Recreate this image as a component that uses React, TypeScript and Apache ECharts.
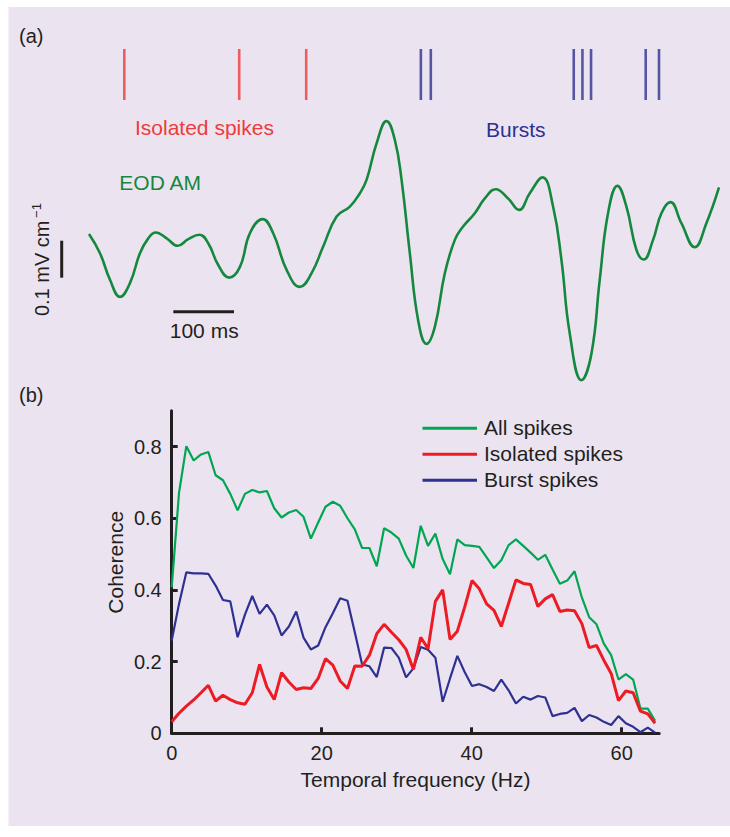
import React, { useEffect, useRef } from "react";
import * as echarts from "echarts";

// ---------- DATA ----------
// Coherence spectra, sampled at a uniform frequency resolution (Hz)
const FREQ_STEP_HZ = 1000 / 1024;

const ALL_SPIKES = [
  0.407, 0.671, 0.801, 0.761, 0.778, 0.785, 0.72, 0.706, 0.668, 0.622,
  0.668, 0.679, 0.672, 0.676, 0.628, 0.602, 0.616, 0.623, 0.604, 0.543,
  0.588, 0.632, 0.646, 0.635, 0.6, 0.569, 0.517, 0.517, 0.466, 0.572,
  0.56, 0.543, 0.496, 0.461, 0.579, 0.523, 0.557, 0.486, 0.444, 0.541,
  0.525, 0.523, 0.52, 0.491, 0.461, 0.483, 0.525, 0.541, 0.523, 0.504,
  0.484, 0.498, 0.457, 0.417, 0.426, 0.452, 0.379, 0.324, 0.304, 0.25,
  0.218, 0.15, 0.165, 0.15, 0.069, 0.069, 0.035,
];

const ISOLATED_SPIKES = [
  0.032, 0.056, 0.076, 0.093, 0.113, 0.134, 0.09, 0.106, 0.094, 0.085,
  0.081, 0.113, 0.192, 0.129, 0.094, 0.169, 0.143, 0.122, 0.127, 0.125,
  0.153, 0.208, 0.19, 0.146, 0.125, 0.188, 0.187, 0.218, 0.278, 0.304,
  0.282, 0.261, 0.234, 0.178, 0.268, 0.236, 0.368, 0.4, 0.262, 0.285,
  0.352, 0.426, 0.403, 0.361, 0.343, 0.298, 0.363, 0.428, 0.418, 0.415,
  0.354, 0.375, 0.387, 0.34, 0.344, 0.342, 0.306, 0.239, 0.245, 0.204,
  0.167, 0.091, 0.118, 0.113, 0.062, 0.054, 0.028,
];

const BURST_SPIKES = [
  0.259, 0.361, 0.449, 0.446, 0.446, 0.445, 0.412, 0.372, 0.368, 0.268,
  0.331, 0.383, 0.333, 0.359, 0.329, 0.273, 0.298, 0.34, 0.267, 0.234,
  0.245, 0.296, 0.335, 0.377, 0.37, 0.282, 0.192, 0.187, 0.157, 0.239,
  0.238, 0.211, 0.156, 0.181, 0.241, 0.233, 0.211, 0.088, 0.153, 0.216,
  0.171, 0.132, 0.137, 0.129, 0.118, 0.15, 0.12, 0.083, 0.102, 0.094,
  0.104, 0.1, 0.048, 0.054, 0.057, 0.071, 0.034, 0.051, 0.044, 0.032,
  0.023, 0.048, 0.028, 0.018, 0.003, 0.016, 0.002,
];

const X_TICKS = [0, 20, 40, 60];
const Y_TICKS = [0, 0.2, 0.4, 0.6, 0.8];
const LEGEND_LABELS = ["All spikes", "Isolated spikes", "Burst spikes"];

// EOD amplitude modulation trace (time in ms, amplitude in mV/cm, relative)
const EOD_TIME_MS = [
  0, 18.1, 34.6, 51.1, 67.5, 84.0, 97.7, 109.9, 128.0, 146.1,
  163.6, 181.7, 196.5, 213.0, 231.1, 248.8, 265.2, 286.2, 303.6, 325.7,
  347.6, 366.9, 386.0, 408.1, 430.0, 446.5, 457.5, 474.0, 490.4, 504.1,
  515.2, 528.8, 542.5, 556.3, 570.0, 586.5, 603.0, 616.6, 635.9, 652.4,
  670.5, 690.8, 708.9, 726.5, 747.4, 764.9, 778.7, 792.4, 811.7, 828.2,
  841.8, 855.5, 871.0, 885.8, 902.3, 914.3, 929.7, 943.5, 958.3, 976.4,
  998.4, 1017.6, 1038.4,
];
const EOD_AMP = [
  0.465, 0.413, 0.341, 0.295, 0.332, 0.413, 0.453, 0.469, 0.453, 0.433,
  0.451, 0.463, 0.44, 0.381, 0.347, 0.376, 0.467, 0.505, 0.467, 0.368,
  0.322, 0.359, 0.431, 0.512, 0.539, 0.575, 0.611, 0.71, 0.77, 0.719,
  0.611, 0.413, 0.232, 0.168, 0.214, 0.359, 0.449, 0.485, 0.521, 0.561,
  0.586, 0.561, 0.53, 0.575, 0.618, 0.539, 0.395, 0.196, 0.07, 0.142,
  0.341, 0.521, 0.595, 0.539, 0.422, 0.396, 0.449, 0.521, 0.551, 0.494,
  0.429, 0.494, 0.591,
];

// Spike raster (ms)
const ISOLATED_SPIKE_TIMES_MS = [58.2, 247.6, 358.0];
const BURST_SPIKE_TIMES_MS = [547.0, 563.4, 799.0, 813.3, 827.5, 917.6, 939.5];

// ---------- STYLE ----------
const FONT = "'Liberation Sans', Arial, Helvetica, sans-serif";
const INK = "#231f20";
const BG = "#ebe4f0";
const GREEN = "#00a651";
const EOD_GREEN = "#15883f";
const RED = "#ed1c24";
const RED_LIGHT = "#ee3b3b";
const BLUE = "#2e3192";

function text(x: number, y: number, t: string, opts: any = {}) {
  return {
    type: "text",
    x,
    y,
    rotation: opts.rotation || 0,
    silent: true,
    z: 100,
    style: {
      text: t,
      fill: opts.fill || INK,
      fontSize: opts.fontSize || 21,
      fontFamily: FONT,
      align: opts.align || "left",
      verticalAlign: "middle",
    },
  };
}

function seg(x1: number, y1: number, x2: number, y2: number, color: string, w: number) {
  return {
    type: "line",
    silent: true,
    z: 100,
    shape: { x1, y1, x2, y2 },
    style: { stroke: color, lineWidth: w },
  };
}

export default function App() {
  const ref = useRef<HTMLDivElement>(null);

  useEffect(() => {
    if (!ref.current) return;
    const chart = echarts.init(ref.current, null, { renderer: "svg" });

    const spectrum = (vals: number[]) => vals.map((v, i) => [i * FREQ_STEP_HZ, v]);
    const legendColors = [GREEN, RED, BLUE];
    const legendY = [428.3, 454.3, 480.3];

    const option: any = {
      animation: false,
      backgroundColor: "transparent",
      grid: [
        { left: 89, top: 110, width: 630, height: 296, outerBoundsMode: "none" },
        { left: 89, top: 49, width: 630, height: 51, outerBoundsMode: "none" },
        { left: 171.7, top: 410.7, width: 487.5, height: 322.6, outerBoundsMode: "none" },
      ],
      xAxis: [
        { gridIndex: 0, type: "value", min: 0, max: 1038.4, show: false },
        { gridIndex: 1, type: "value", min: 0, max: 1038.4, show: false },
        {
          gridIndex: 2,
          type: "value",
          min: 0,
          max: 65,
          axisLine: { show: true, onZero: false, lineStyle: { color: INK, width: 3 } },
          axisTick: { show: true, inside: true, length: 6, lineStyle: { color: INK, width: 3 }, customValues: X_TICKS },
          axisLabel: {
            customValues: X_TICKS,
            color: INK,
            fontSize: 20,
            fontFamily: FONT,
            margin: 20,
            verticalAlign: "middle",
          },
          splitLine: { show: false },
        },
      ],
      yAxis: [
        { gridIndex: 0, type: "value", min: 0, max: 0.8, show: false },
        { gridIndex: 1, type: "value", min: 0, max: 1, show: false },
        {
          gridIndex: 2,
          type: "value",
          min: 0,
          max: 0.9,
          axisLine: { show: true, onZero: false, lineStyle: { color: INK, width: 3 } },
          axisTick: { show: true, inside: true, length: 6, lineStyle: { color: INK, width: 3 }, customValues: Y_TICKS },
          axisLabel: {
            customValues: Y_TICKS,
            color: INK,
            fontSize: 20,
            fontFamily: FONT,
            margin: 10,
          },
          splitLine: { show: false },
        },
      ],
      series: [
        {
          name: "EOD AM",
          type: "line",
          xAxisIndex: 0,
          yAxisIndex: 0,
          data: EOD_TIME_MS.map((t, i) => [t, EOD_AMP[i]]),
          smooth: 0.45,
          symbol: "none",
          silent: true,
          lineStyle: { color: EOD_GREEN, width: 2.6 },
        },
        {
          name: "Isolated spike times",
          type: "scatter",
          xAxisIndex: 1,
          yAxisIndex: 1,
          data: ISOLATED_SPIKE_TIMES_MS.map((t) => [t, 0.5]),
          symbol: "rect",
          symbolSize: [2.6, 51],
          silent: true,
          itemStyle: { color: RED_LIGHT },
        },
        {
          name: "Burst spike times",
          type: "scatter",
          xAxisIndex: 1,
          yAxisIndex: 1,
          data: BURST_SPIKE_TIMES_MS.map((t) => [t, 0.5]),
          symbol: "rect",
          symbolSize: [2.6, 51],
          silent: true,
          itemStyle: { color: BLUE },
        },
        {
          name: LEGEND_LABELS[0],
          type: "line",
          xAxisIndex: 2,
          yAxisIndex: 2,
          data: spectrum(ALL_SPIKES),
          symbol: "none",
          silent: true,
          lineStyle: { color: GREEN, width: 2.2 },
        },
        {
          name: LEGEND_LABELS[2],
          type: "line",
          xAxisIndex: 2,
          yAxisIndex: 2,
          data: spectrum(BURST_SPIKES),
          symbol: "none",
          silent: true,
          lineStyle: { color: BLUE, width: 2.2 },
        },
        {
          name: LEGEND_LABELS[1],
          type: "line",
          xAxisIndex: 2,
          yAxisIndex: 2,
          data: spectrum(ISOLATED_SPIKES),
          symbol: "none",
          silent: true,
          lineStyle: { color: RED, width: 3 },
        },
      ],
      graphic: [
        {
          type: "rect",
          silent: true,
          z: -100,
          shape: { x: 8.5, y: 7, width: 722, height: 819 },
          style: { fill: BG },
        },
        text(19, 35.5, "(a)", { fontSize: 20 }),
        text(19, 394.5, "(b)", { fontSize: 20 }),
        text(135, 127.5, "Isolated spikes", { fill: RED_LIGHT }),
        text(486, 129.5, "Bursts", { fill: BLUE }),
        text(119.3, 182.8, "EOD AM", { fill: EOD_GREEN }),
        text(204.2, 330.8, "100 ms", { align: "center" }),
        text(41.5, 268.3, "0.1 mV cm", { align: "center", rotation: Math.PI / 2, fontSize: 20 }),
        text(36.5, 210.5, "\u22121", { align: "center", rotation: Math.PI / 2, fontSize: 13 }),
        seg(61.7, 240.7, 61.7, 277.7, INK, 3),
        seg(173.3, 311.7, 234, 311.7, INK, 3),
        text(115.8, 562.3, "Coherence", { align: "center", rotation: Math.PI / 2 }),
        text(415.5, 779.2, "Temporal frequency (Hz)", { align: "center" }),
        ...LEGEND_LABELS.flatMap((lab, i) => [
          seg(422.5, legendY[i], 477, legendY[i], legendColors[i], 3),
          text(484, legendY[i] - 1, lab),
        ]),
      ],
    };

    chart.setOption(option);
    return () => chart.dispose();
  }, []);

  return (
    <div
      style={{
        position: "fixed",
        left: 0,
        top: 0,
        width: 730,
        height: 837,
        background: "#ffffff",
      }}
    >
      <div ref={ref} style={{ width: 730, height: 837 }} />
    </div>
  );
}
